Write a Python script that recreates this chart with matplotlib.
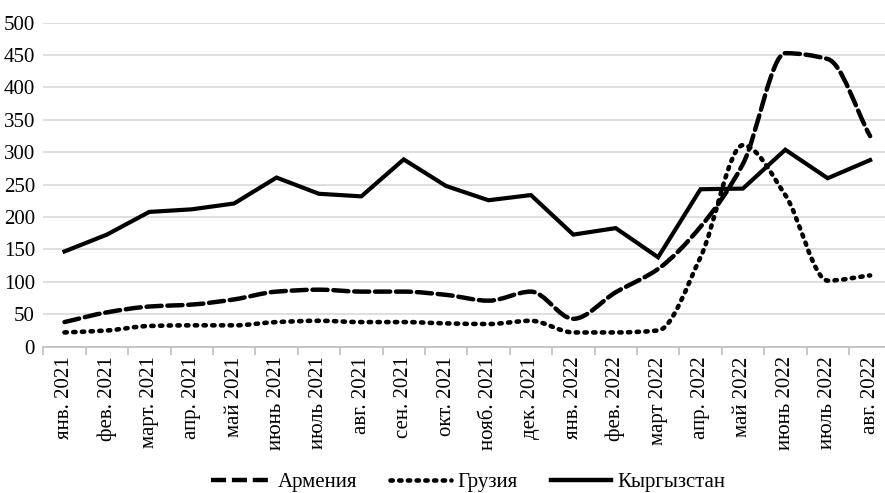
import matplotlib
matplotlib.use("Agg")
import matplotlib.pyplot as plt
import numpy as np
from matplotlib.lines import Line2D
from matplotlib.patches import PathPatch
from matplotlib.path import Path

months = [
    "янв. 2021", "фев. 2021", "март. 2021", "апр. 2021", "май 2021",
    "июнь 2021", "июль 2021", "авг. 2021", "сен. 2021", "окт. 2021",
    "нояб. 2021", "дек. 2021", "янв. 2022", "фев. 2022", "март 2022",
    "апр. 2022", "май 2022", "июнь 2022", "июль 2022", "авг. 2022",
]
armenia = [38, 53, 62, 65, 73, 85, 88, 85, 85, 80, 71, 85, 43, 84, 120,
           185, 282, 453, 444, 325]
georgia = [22, 25, 32, 33, 33, 38, 40, 38, 38, 36, 35, 40, 22, 22, 25,
           138, 311, 234, 102, 110]
kyrgyzstan = [147, 173, 208, 212, 221, 261, 236, 232, 289, 248, 226, 234,
              173, 183, 138, 243, 244, 304, 260, 288]

plt.rcParams["font.family"] = ["Liberation Serif"]


def smooth_path(y):
    # smoothed line without overshoot: monotone cubic tangents -> Bezier segments
    y = np.asarray(y, dtype=float)
    n = len(y)
    d = np.diff(y)
    m = np.zeros(n)
    m[0], m[-1] = d[0], d[-1]
    for i in range(1, n - 1):
        if d[i - 1] * d[i] > 0:
            m[i] = 2.0 / (1.0 / d[i - 1] + 1.0 / d[i])
    verts = [(0.0, y[0])]
    codes = [Path.MOVETO]
    for i in range(n - 1):
        verts.append((i + 1 / 3, y[i] + m[i] / 3))
        verts.append((i + 2 / 3, y[i + 1] - m[i + 1] / 3))
        verts.append((i + 1.0, y[i + 1]))
        codes.extend([Path.CURVE4] * 3)
    return Path(verts, codes)


fig = plt.figure(figsize=(8.85, 4.93), dpi=100)
ax = fig.add_axes([43.3 / 885, 146.3 / 493, 848 / 885, 324 / 493])

x = np.arange(len(months))
dash = (0, (3.4, 1.3))
dots = (0, (0.5, 1.4))

ax.add_patch(PathPatch(smooth_path(armenia), facecolor="none", edgecolor="black",
                       lw=3.2, linestyle=dash, capstyle="round", zorder=3))
ax.add_patch(PathPatch(smooth_path(georgia), facecolor="none", edgecolor="black",
                       lw=3.3, linestyle=dots, capstyle="round", zorder=3))
ax.plot(x, kyrgyzstan, color="black", lw=3.0, solid_joinstyle="miter", zorder=4)

ax.set_xlim(-0.5, len(months) - 0.5)
ax.set_ylim(0, 500)
ax.set_yticks(range(0, 501, 50))
ax.yaxis.grid(True, color="#d9d9d9", lw=1.2)
ax.set_axisbelow(True)
ax.tick_params(axis="y", length=0, labelsize=15, pad=6)

ax.set_xticks(x)
ax.set_xticklabels(months, rotation=90, fontsize=15)
ax.set_xticks(np.arange(-0.5, len(months), 1), minor=True)
ax.tick_params(axis="x", which="major", length=0, pad=7)
ax.tick_params(axis="x", which="minor", length=6, color="#bfbfbf", width=1.2)

for side in ["top", "right", "left"]:
    ax.spines[side].set_visible(False)
ax.spines["bottom"].set_color("#bfbfbf")
ax.spines["bottom"].set_linewidth(1.2)

handles = [
    Line2D([], [], color="black", lw=3.2, linestyle=dash),
    Line2D([], [], color="black", lw=3.3, linestyle=dots, dash_capstyle="round"),
    Line2D([], [], color="black", lw=3.2),
]
fig.legend(handles, ["Армения", "Грузия", "Кыргызстан"], loc="center",
           bbox_to_anchor=(468 / 885, 11 / 493), ncol=3, frameon=False,
           fontsize=15, handlelength=2.9, handletextpad=0.3, columnspacing=1.6)

fig.savefig("out.png", dpi=100)
